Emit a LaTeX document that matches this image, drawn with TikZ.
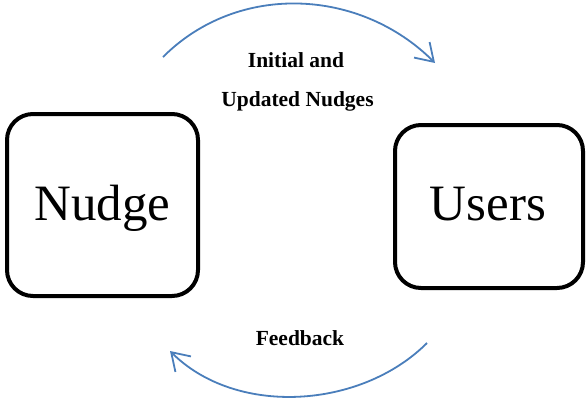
\documentclass[tikz,border=0pt]{standalone}
\usepackage{fontspec}
\setmainfont{Liberation Serif}
\usetikzlibrary{arrows.meta}
\definecolor{flowblue}{HTML}{4A7EBB}
\tikzset{
  block/.style={draw=black, line width=4pt, rounded corners=26pt, inner sep=0pt},
  blocktext/.style={anchor=base, inner sep=0pt, font=\fontsize{51}{56}\selectfont},
  flow/.style={draw=flowblue, line width=1.8pt,
               -{Straight Barb[length=17pt,width=22pt,line width=1.8pt]}},
  caption/.style={anchor=base, inner sep=0pt, font=\fontsize{21.5}{24}\selectfont\bfseries}
}
\begin{document}
\begin{tikzpicture}[x=1pt, y=-1pt]
  \useasboundingbox (0,0) rectangle (588,400);
  % the two actors
  \node[block, minimum width=191pt, minimum height=182pt] (nudge) at (102.5,205) {};
  \node[blocktext] (nudgetext) at (102.5,220) {Nudge};
  \node[block, minimum width=188pt, minimum height=163pt] (users) at (489,206.5) {};
  \node[blocktext] (userstext) at (488,220) {Users};
  % ends of the curved arrows
  \coordinate (topstart) at (163,57);
  \coordinate (topend) at (435,63);
  \coordinate (botstart) at (427,343);
  \coordinate (botend) at (170,351);
  \draw[flow] (topstart) .. controls (238,-18) and (360,-12) .. (topend);
  \draw[flow] (botstart) .. controls (361,409) and (236,417) .. (botend);
  % labels of the arrows
  \node[caption] (lab1) at (296,67) {Initial and};
  \node[caption] (lab2) at (297.5,106) {Updated Nudges};
  \node[caption] (lab3) at (300,345) {Feedback};
\end{tikzpicture}
\end{document}
